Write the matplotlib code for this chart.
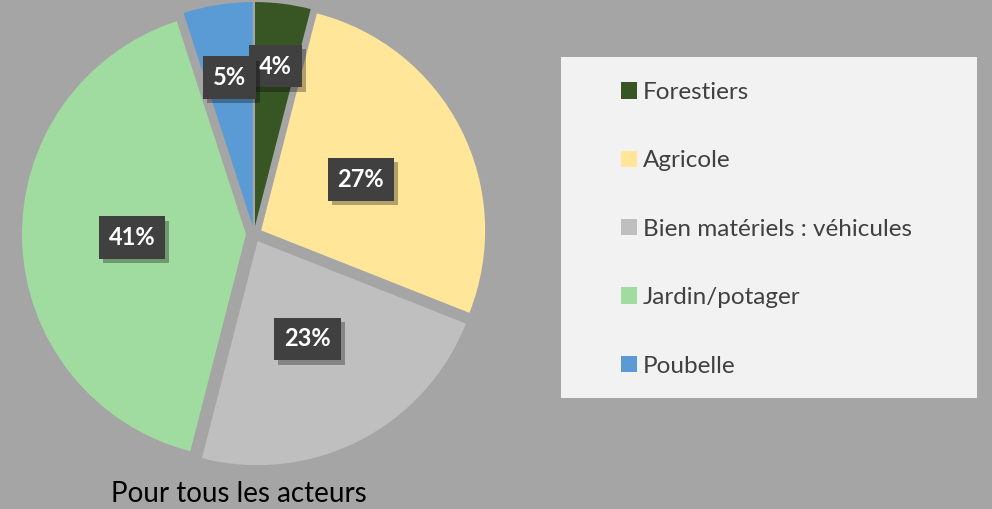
import numpy as np
import matplotlib
matplotlib.use("Agg")
import matplotlib.pyplot as plt
from matplotlib.patches import Rectangle
import matplotlib.patheffects as pe

# ---- data ----
categories = ["Forestiers", "Agricole", "Bien matériels : véhicules", "Jardin/potager", "Poubelle"]
values = [4, 27, 23, 41, 5]
colors = ["#375623", "#FFE699", "#BFBFBF", "#A0DCA0", "#5B9BD5"]
title = "Pour tous les acteurs"

# ---- style / layout ----
BG = "#A5A5A5"
W, H = 992, 509
center = (254, H - 234)
radius = 224
explode_px = 8
label_dist = [0.72, 0.50, 0.49, 0.51, 0.67]

plt.rcParams['font.family'] = ['Lato', 'DejaVu Sans']

fig = plt.figure(figsize=(W / 100, H / 100), dpi=100, facecolor=BG)
ax = fig.add_axes([0, 0, 1, 1])
ax.set_xlim(0, W)
ax.set_ylim(0, H)
ax.set_facecolor(BG)

wedges, _, autotexts = ax.pie(
    values, colors=colors, startangle=90, counterclock=False,
    explode=[explode_px] * len(values), radius=radius, center=center,
    autopct=lambda p: f"{p:.0f}%", frame=True,
    wedgeprops=dict(linewidth=0))
ax.axis('off')

for w, t, d in zip(wedges, autotexts, label_dist):
    thm = np.deg2rad((w.theta1 + w.theta2) / 2)
    cx, cy = w.center
    t.set_position((cx + d * radius * np.cos(thm), cy + d * radius * np.sin(thm)))
    t.set_color("white")
    t.set_fontweight("bold")
    t.set_fontsize(17)
    t.set_bbox(dict(boxstyle="square,pad=0.42", facecolor="#404040",
                    edgecolor="none", linewidth=0))
    t.get_bbox_patch().set_path_effects([
        pe.SimplePatchShadow(offset=(3, -3), shadow_rgbFace="black", alpha=0.3),
        pe.Normal()])

# legend background
ax.add_patch(Rectangle((561, H - 398), 977 - 561, 398 - 57,
                       facecolor="#F2F2F2", edgecolor="none", zorder=0.5))

leg = ax.legend(wedges, categories, loc="upper left",
                bbox_to_anchor=(621 / W, 1 - 82 / H), bbox_transform=fig.transFigure,
                frameon=False, fontsize=17.5, labelcolor="#404040",
                handlelength=0.66, handleheight=0.66, handletextpad=0.25,
                labelspacing=1.95, borderpad=0, borderaxespad=0)
leg.set_zorder(5)

fig.text(239 / W, 1 - 502 / H, title, ha="center", va="baseline",
         fontsize=20, color="black")

fig.savefig("out.png", dpi=100, facecolor=BG)
